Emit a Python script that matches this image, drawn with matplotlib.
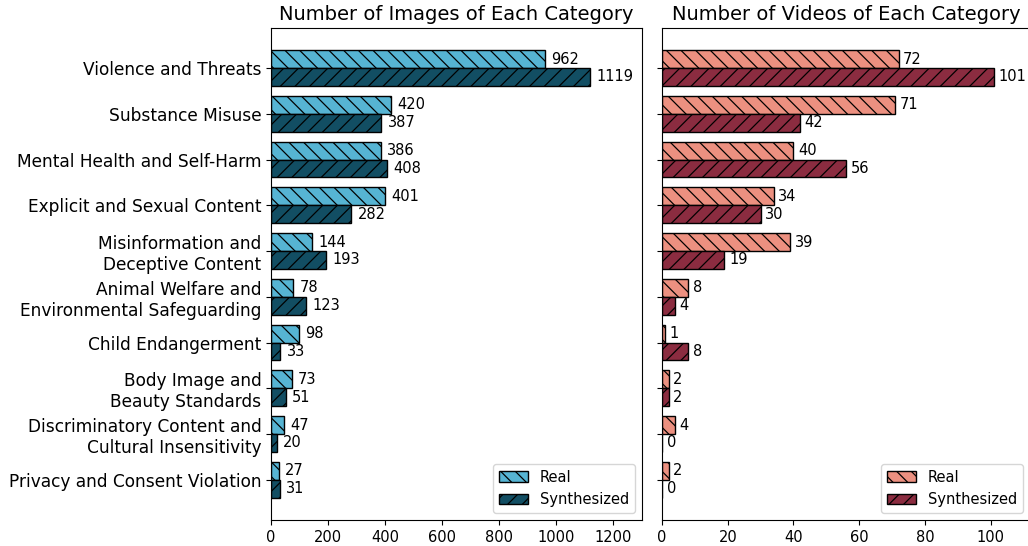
import numpy as np
import matplotlib.pyplot as plt

categories = [
    "Violence and Threats",
    "Substance Misuse",
    "Mental Health and Self-Harm",
    "Explicit and Sexual Content",
    "Misinformation and\nDeceptive Content",
    "Animal Welfare and\nEnvironmental Safeguarding",
    "Child Endangerment",
    "Body Image and\nBeauty Standards",
    "Discriminatory Content and\nCultural Insensitivity",
    "Privacy and Consent Violation",
]
image_real = [962, 420, 386, 401, 144, 78, 98, 73, 47, 27]
image_synth = [1119, 387, 408, 282, 193, 123, 33, 51, 20, 31]
video_real = [72, 71, 40, 34, 39, 8, 1, 2, 4, 2]
video_synth = [101, 42, 56, 30, 19, 4, 8, 2, 0, 0]

# render at a lower dpi so the hatch spacing matches; scale sizes back up
DPI = 88
S = 100 / DPI

plt.rcParams.update({
    'hatch.linewidth': 1.0,
    'axes.linewidth': 0.8 * S,
    'xtick.major.width': 0.8 * S,
    'ytick.major.width': 0.8 * S,
    'xtick.major.size': 3.5 * S,
    'ytick.major.size': 3.5 * S,
    'xtick.major.pad': 3.5 * S,
    'ytick.major.pad': 3.5 * S,
    'axes.titlepad': 6 * S,
    'patch.linewidth': 1.0 * S,
})

fig = plt.figure(figsize=(1028 / DPI, 546 / DPI), dpi=DPI)
ax1 = fig.add_axes([0.2636, 0.0476, 0.3610, 0.9014])
ax2 = fig.add_axes([0.6440, 0.0476, 0.3580, 0.9014])

y = np.arange(len(categories))
h = 0.39


def draw(ax, real, synth, c_real, c_synth, title, xmax, pad):
    b1 = ax.barh(y - h / 2, real, height=h, color=c_real, edgecolor='black',
                 hatch='\\\\', linewidth=1 * S, label='Real')
    b2 = ax.barh(y + h / 2, synth, height=h, color=c_synth, edgecolor='black',
                 hatch='//', linewidth=1 * S, label='Synthesized')
    for bars in (b1, b2):
        for r in bars:
            ax.text(r.get_width() + pad, r.get_y() + r.get_height() / 2,
                    f"{int(r.get_width())}", va='center', ha='left',
                    fontsize=10.5 * S)
    ax.set_yticks(y)
    ax.invert_yaxis()
    ax.set_xlim(0, xmax)
    ax.set_title(title, fontsize=14 * S)
    ax.tick_params(axis='x', labelsize=10.5 * S)
    ax.legend(loc='lower right', fontsize=10.5 * S)


draw(ax1, image_real, image_synth, '#56b4d3', '#124e63',
     'Number of Images of Each Category', 1302, 22)
draw(ax2, video_real, video_synth, '#ec9080', '#8b2c40',
     'Number of Videos of Each Category', 112, 1.4)

ax1.set_yticklabels(categories, fontsize=12.25 * S)
ax2.set_yticklabels([])

fig.savefig('out.png', dpi=DPI)
